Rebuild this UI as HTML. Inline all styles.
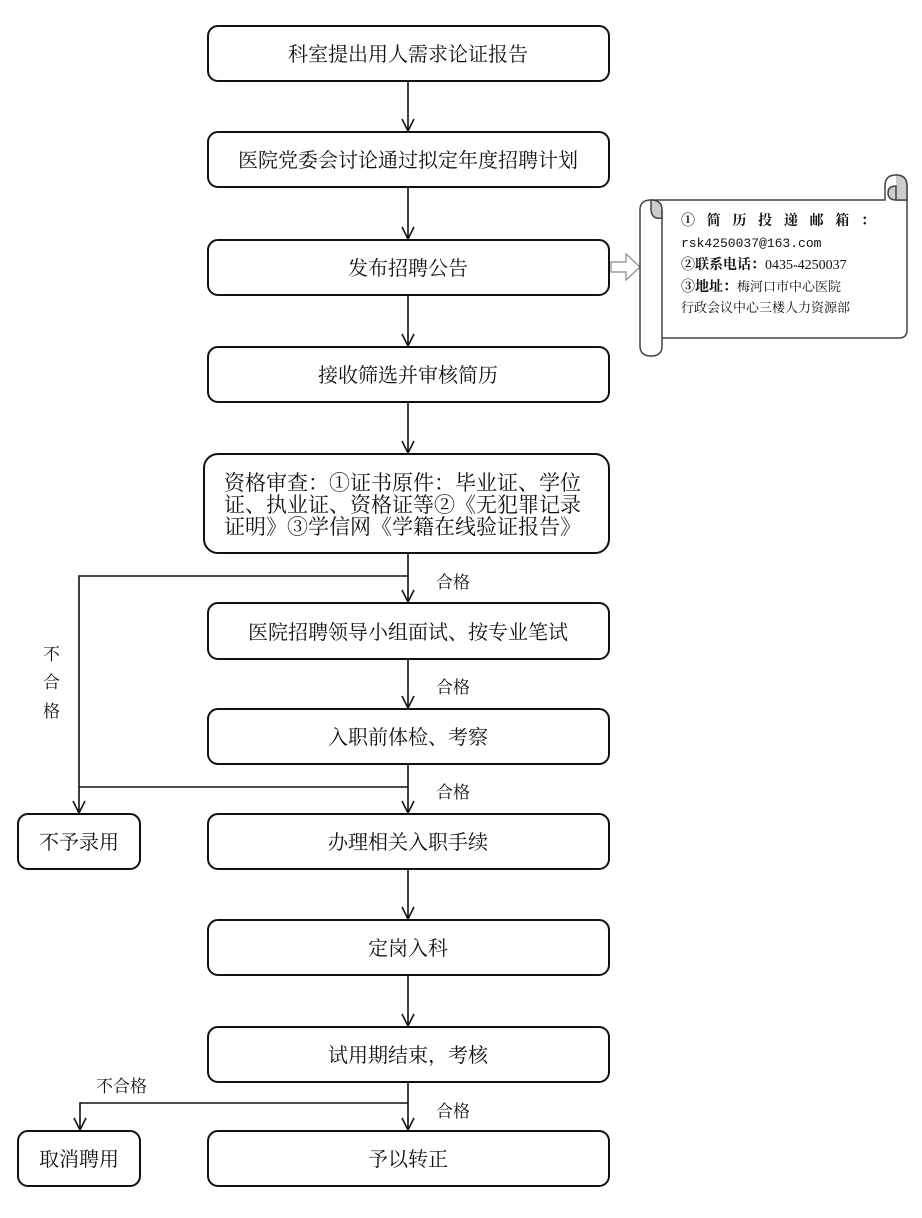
<!DOCTYPE html>
<html><head><meta charset="utf-8"><style>
body{margin:0;background:#fff}
svg text{font-family:"Liberation Serif","Noto Serif CJK SC",serif;fill:#111}
</style></head><body>
<svg width="922" height="1213" viewBox="0 0 922 1213" xmlns="http://www.w3.org/2000/svg">
<defs><marker id="a" markerWidth="16" markerHeight="16" refX="13" refY="7" orient="auto" markerUnits="userSpaceOnUse"><path d="M1,1 L13,7 L1,13" fill="none" stroke="#111" stroke-width="1.6"/></marker></defs>
<g fill="#fff" stroke="#111" stroke-width="2">
<rect x="208" y="26" width="401" height="55" rx="10"/>
<rect x="208" y="132" width="401" height="55" rx="10"/>
<rect x="208" y="240" width="401" height="55" rx="10"/>
<rect x="208" y="347" width="401" height="55" rx="10"/>
<rect x="204" y="454" width="405" height="99" rx="14"/>
<rect x="208" y="603" width="401" height="56" rx="10"/>
<rect x="208" y="709" width="401" height="55" rx="10"/>
<rect x="208" y="814" width="401" height="55" rx="10"/>
<rect x="208" y="920" width="401" height="55" rx="10"/>
<rect x="208" y="1027" width="401" height="55" rx="10"/>
<rect x="208" y="1131" width="401" height="55" rx="10"/>
<rect x="18" y="814" width="122" height="55" rx="10"/>
<rect x="18" y="1131" width="122" height="55" rx="10"/>
</g>
<g stroke="#111" stroke-width="1.6" fill="none">
<line x1="408" y1="81" x2="408" y2="131" marker-end="url(#a)"/>
<line x1="408" y1="187" x2="408" y2="239" marker-end="url(#a)"/>
<line x1="408" y1="295" x2="408" y2="346" marker-end="url(#a)"/>
<line x1="408" y1="402" x2="408" y2="453" marker-end="url(#a)"/>
<line x1="408" y1="553" x2="408" y2="602" marker-end="url(#a)"/>
<line x1="408" y1="659" x2="408" y2="708" marker-end="url(#a)"/>
<line x1="408" y1="764" x2="408" y2="813" marker-end="url(#a)"/>
<line x1="408" y1="869" x2="408" y2="919" marker-end="url(#a)"/>
<line x1="408" y1="975" x2="408" y2="1026" marker-end="url(#a)"/>
<line x1="408" y1="1082" x2="408" y2="1130" marker-end="url(#a)"/>
<polyline points="408,576 79,576 79,813" marker-end="url(#a)"/>
<line x1="79" y1="787" x2="408" y2="787"/>
<polyline points="408,1103 80,1103 80,1130" marker-end="url(#a)"/>
<path d="M611,262 H626 V254 L640,267 L626,280 V272 H611 Z" stroke="#888" stroke-width="1.2"/>
</g>
<g stroke="#444" stroke-width="1.5">
<path d="M896,200 H907 V330 Q907,338 899,338 H662 V346 Q662,356 651,356 Q640,356 640,346 V210 Q640,200 651,200 H885 V186 Q885,175 896,175 Q907,175 907,186 V200" fill="#fff"/>
<path d="M896,175 Q907,175 907,186 V200 H896 Q888,200 888,193 Q888,186 896,186 V200" fill="#ccc"/>
<path d="M651,200 Q662,200 662,210 V218 Q652,220 651,210 Z" fill="#ccc"/>
<line x1="662" y1="210" x2="662" y2="338" fill="none"/>
</g>
<g font-size="20" text-anchor="middle">
<text x="408" y="61">科室提出用人需求论证报告</text>
<text x="408" y="167">医院党委会讨论通过拟定年度招聘计划</text>
<text x="408" y="275">发布招聘公告</text>
<text x="408" y="382">接收筛选并审核简历</text>
<text x="408" y="639">医院招聘领导小组面试、按专业笔试</text>
<text x="408" y="744">入职前体检、考察</text>
<text x="408" y="849">办理相关入职手续</text>
<text x="408" y="955">定岗入科</text>
<text x="408" y="1062">试用期结束，考核</text>
<text x="408" y="1166">予以转正</text>
<text x="79" y="849">不予录用</text>
<text x="79" y="1166">取消聘用</text>
</g>
<g font-size="21">
<text x="224" y="490">资格审查：①证书原件：毕业证、学位</text>
<text x="224" y="512">证、执业证、资格证等②《无犯罪记录</text>
<text x="224" y="534">证明》③学信网《学籍在线验证报告》</text>
</g>
<g font-size="17">
<text x="436" y="588">合格</text>
<text x="436" y="693">合格</text>
<text x="436" y="798">合格</text>
<text x="436" y="1117">合格</text>
<text x="96" y="1092">不合格</text>
<text x="43" y="660">不</text>
<text x="43" y="688">合</text>
<text x="43" y="717">格</text>
</g>
<g font-size="14">
<text x="681" y="225" textLength="194" font-weight="bold">① 简 历 投 递 邮 箱 ：</text>
<text x="681" y="247" style="font-family:'Liberation Mono',monospace" font-size="13">rsk4250037@163.com</text>
<text x="681" y="269"><tspan font-weight="bold">②联系电话：</tspan>0435-4250037</text>
<text x="681" y="291"><tspan font-weight="bold">③地址：</tspan><tspan font-size="13">梅河口市中心医院</tspan></text>
<text x="681" y="312" font-size="13">行政会议中心三楼人力资源部</text>
</g>
</svg>
</body></html>
